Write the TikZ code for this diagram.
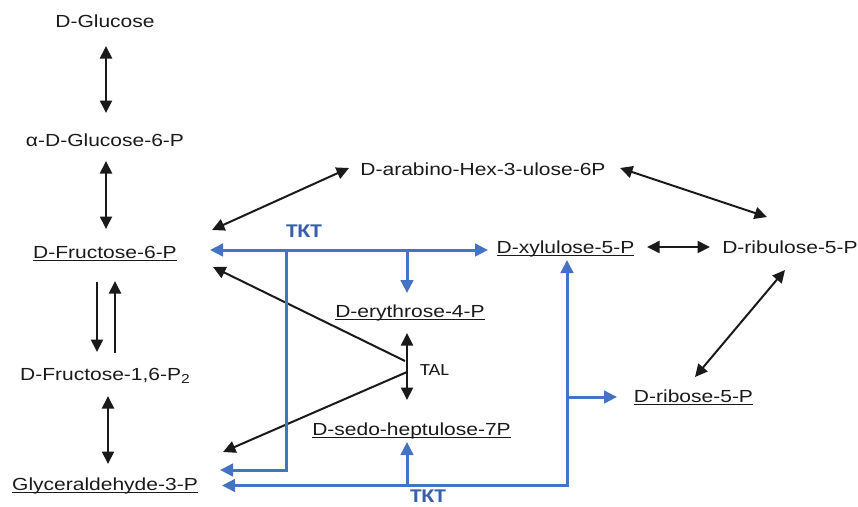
\documentclass[tikz,border=0pt]{standalone}
\usepackage{fontspec}
\setmainfont{Liberation Sans}[FakeStretch=1.2]
\newfontfamily\calfont{Carlito}[FakeStretch=1.2]
\usepackage{tikz}
\usetikzlibrary{positioning}
\usetikzlibrary{calc}
\usetikzlibrary{arrows.meta}

\definecolor{tktblue}{HTML}{4472C4}
\definecolor{tktdark}{HTML}{375FAA}
\definecolor{ink}{HTML}{1A1A1A}

\newcommand{\ulbox}[1]{\setbox0=\hbox{#1}\rlap{\rule[-3pt]{\wd0}{0.9pt}}\box0}
\newcommand{\subtwo}{\raisebox{-3pt}{\fontsize{13}{15}\selectfont 2}}

\tikzset{
  met/.style={inner sep=0pt, text height=12.5pt, text depth=3.5pt, text=ink, font=\fontsize{17.5}{21}\selectfont},
  enz/.style={inner sep=0pt},
  rxn/.style={draw=ink, line width=2pt, >={Triangle[length=12.5pt,width=12pt]}},
  tkt/.style={draw=tktblue, line width=3pt, >={Triangle[length=13pt,width=12.5pt]}},
}

\begin{document}
\begin{tikzpicture}[x=1pt, y=-1pt, on grid]
    \useasboundingbox (0,0) rectangle (858,506);

    % glycolysis column
    \node[met] (glc) at (105,22.5) {D-Glucose};
    \node[met, below=119pt of glc] (g6p) {α-D-Glucose-6-P};
    \node[met, below=112pt of g6p] (f6p) {\ulbox{D-Fructose-6-P}};
    \node[met, below=122pt of f6p] (fbp) {D-Fructose-1,6-P\subtwo};
    \node[met, below=110pt of fbp] (gap) {\ulbox{Glyceraldehyde-3-P}};

    % pentose side
    \node[met] (hex) at (483,170.5) {D-arabino-Hex-3-ulose-6P};
    \node[met] (xu5p) at (565.5,248.5) {\ulbox{D-xylulose-5-P}};
    \node[met, right=224.5pt of xu5p] (ru5p) {D-ribulose-5-P};
    \node[met] (e4p) at (410,312.5) {\ulbox{D-erythrose-4-P}};
    \node[met] (s7p) at (411.5,430.5) {\ulbox{D-sedo-heptulose-7P}};
    \node[met] (r5p) at (693.5,397.5) {\ulbox{D-ribose-5-P}};

    \node[enz, anchor=base west, text=ink, font=\calfont\fontsize{17}{20}\selectfont] (tal) at (420,375) {TAL};
    \node[enz, anchor=base, text=tktdark, font=\calfont\bfseries\fontsize{19.5}{22}\selectfont] (tkt1) at (304,237) {TKT};
    \node[enz, anchor=base, text=tktdark, font=\calfont\bfseries\fontsize{19.5}{22}\selectfont] (tkt2) at (428,502.5) {TKT};

    \draw[rxn, <->] ($(glc)+(1,23.5)$) -- ($(g6p)+(1,-28.5)$);
    \draw[rxn, <->] ($(g6p)+(1,19.5)$) -- ($(f6p)+(1,-24.5)$);
    \draw[rxn, ->] ($(f6p)+(-8,28.5)$) -- ($(fbp)+(-8,-23.5)$);
    \draw[rxn, ->] ($(fbp)+(10,-22.5)$) -- ($(f6p)+(10,27.5)$);
    \draw[rxn, <->] ($(fbp)+(3,20.5)$) -- ($(gap)+(3,-21.5)$);
    \draw[rxn, <->] ($(f6p)+(107,-23.5)$) -- ($(hex)+(-134,-2.5)$);
    \draw[rxn, <->] ($(hex)+(137,-2.5)$) -- ($(ru5p)+(-23,-31.5)$);
    \draw[rxn, <->] ($(xu5p)+(81.5,-1.5)$) -- ($(ru5p)+(-80,-1.5)$);
    \draw[rxn, <->] ($(ru5p)+(-5,21.5)$) -- ($(r5p)+(1.5,-20.5)$);
    \draw[rxn, <->] ($(e4p)+(-3,20.5)$) -- ($(s7p)+(-4.5,-30.5)$);

    % transaldolase
    \coordinate (tal1) at (405,361);
    \coordinate (tal2) at (407,372);
    \draw[rxn, ->] (tal1) -- ($(f6p)+(108,13.5)$);
    \draw[rxn, ->] (tal2) -- ($(gap)+(118,-33.5)$);

    % transketolase
    \coordinate (tA) at (286,250);
    \coordinate (tB) at (407,250);
    \coordinate (bB) at (407,485.5);
    \coordinate (bC) at (567,397);
    \draw[tkt, <->] ($(f6p)+(105,-3.5)$) -- ($(xu5p)+(-77.5,1.5)$);
    \draw[tkt, ->] (tA) |- ($(gap)+(115,-15.5)$);
    \draw[tkt, ->] (tB) -- ($(e4p)+(-3,-19.5)$);
    \draw[tkt, <->] ($(xu5p)+(1.5,11.5)$) |- ($(gap)+(117,0)$);
    \draw[tkt, ->] (bC) -- ($(r5p)+(-76.5,-0.5)$);
    \draw[tkt, ->] (bB) -- ($(s7p)+(-4.5,11.5)$);
\end{tikzpicture}
\end{document}
